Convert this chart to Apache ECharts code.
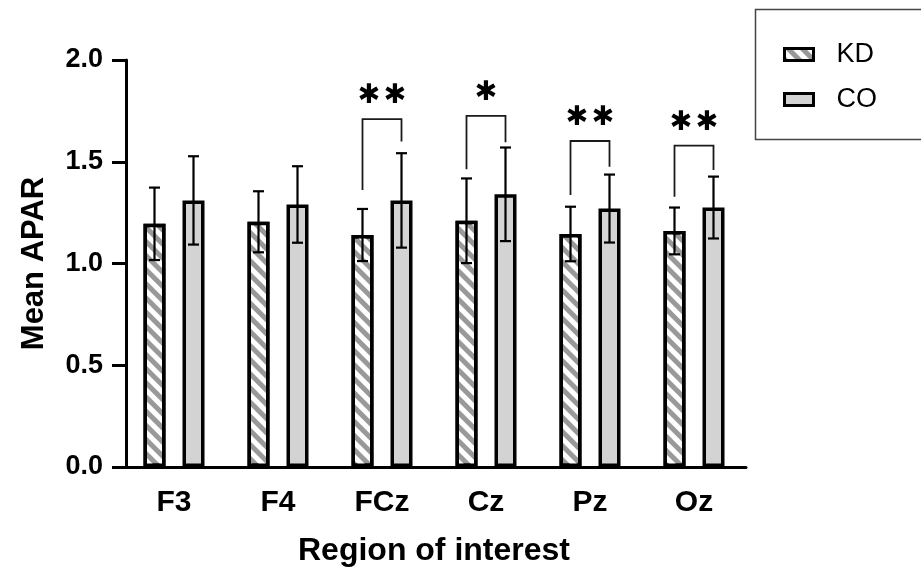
<!DOCTYPE html>
<html>
<head>
<meta charset="utf-8">
<script src="https://cdn.jsdelivr.net/npm/echarts@6/dist/echarts.min.js"></script>
<style>
html,body{margin:0;padding:0;background:#fff;}
#chart{width:921px;height:576px;}
</style>
</head>
<body>
<div id="chart"></div>
<script>
const categories = ['F3', 'F4', 'FCz', 'Cz', 'Pz', 'Oz'];
const kdMean = [1.195, 1.205, 1.14, 1.21, 1.145, 1.16];
const kdSD   = [0.178, 0.150, 0.128, 0.208, 0.134, 0.115];
const coMean = [1.31, 1.29, 1.31, 1.34, 1.27, 1.275];
const coSD   = [0.217, 0.188, 0.232, 0.230, 0.167, 0.152];
const sigCategory = ['FCz', 'Cz', 'Pz', 'Oz'];
const sigTop      = [1.709, 1.725, 1.602, 1.579];
const sigLeftEnd  = [1.361, 1.463, 1.337, 1.328];
const sigRightEnd = [1.600, 1.596, 1.476, 1.459];
const sigLabel    = ['**', '*', '**', '**'];
const yTicks = [0, 0.5, 1.0, 1.5, 2.0];

const FONT = "'Liberation Sans', Arial, sans-serif";
const BAR_W = 22, BAR_GAP_PX = 17;
const OFF = (BAR_W + BAR_GAP_PX) / 2;

const chart = echarts.init(document.getElementById('chart'));

function errRender(offset) {
  return function (params, api) {
    const i = api.value(0), m = api.value(1), s = api.value(2);
    const x = api.coord([i, 0])[0] + offset;
    const hi = api.coord([i, m + s])[1];
    const lo = api.coord([i, m - s])[1];
    const cw = 5.5;
    const st = { stroke: '#000', lineWidth: 2.2 };
    return {
      type: 'group',
      children: [
        { type: 'line', shape: { x1: x, y1: hi, x2: x, y2: lo }, style: st },
        { type: 'line', shape: { x1: x - cw, y1: hi, x2: x + cw, y2: hi }, style: st },
        { type: 'line', shape: { x1: x - cw, y1: lo, x2: x + cw, y2: lo }, style: st }
      ]
    };
  };
}

function sigRender(params, api) {
  const i = api.value(0);
  const cx = api.coord([i, 0])[0];
  const yt = api.coord([i, api.value(1)])[1];
  const yl = api.coord([i, api.value(2)])[1];
  const yr = api.coord([i, api.value(3)])[1];
  const xl = cx - OFF, xr = cx + OFF;
  const label = sigLabel[params.dataIndex];
  const children = [{
    type: 'polyline',
    shape: { points: [[xl, yl], [xl, yt], [xr, yt], [xr, yr]] },
    style: { stroke: '#1a1a1a', lineWidth: 1.8, fill: null }
  }];
  const n = label.length;
  for (let k = 0; k < n; k++) {
    children.push({
      type: 'text',
      style: {
        text: '\u2731', x: cx + (k - (n - 1) / 2) * 26, y: yt - 23,
        align: 'center', verticalAlign: 'middle',
        font: 'bold 27px "DejaVu Sans", sans-serif', fill: '#000'
      }
    });
  }
  return { type: 'group', children };
}

const option = {
  animation: false,
  backgroundColor: '#fff',
  graphic: [{
    type: 'rect', left: 753, top: 7, silent: true,
    shape: { width: 200, height: 130 },
    style: { fill: 'none', stroke: '#444', lineWidth: 1.5 }
  }],
  legend: {
    data: ['KD', 'CO'],
    orient: 'vertical',
    left: 778, top: 36,
    itemWidth: 29, itemHeight: 12, itemGap: 18,
    icon: 'rect',
    itemStyle: { borderColor: '#000', borderWidth: 3 },
    textStyle: { fontFamily: FONT, fontSize: 27, color: '#000', padding: [0, 0, 0, 18] }
  },
  grid: { left: 122, right: 175, top: 60, bottom: 109, containLabel: false },
  xAxis: {
    type: 'category',
    data: categories,
    name: 'Region of interest',
    nameLocation: 'middle',
    nameGap: 68,
    nameTextStyle: { fontFamily: FONT, fontSize: 32, fontWeight: 'bold', color: '#000' },
    axisLine: { lineStyle: { color: '#000', width: 3 } },
    axisTick: { alignWithLabel: true, length: 15, lineStyle: { color: '#000', width: 3 } },
    axisLabel: { fontFamily: FONT, fontSize: 30, fontWeight: 'bold', color: '#000', margin: 21 }
  },
  yAxis: {
    type: 'value',
    min: yTicks[0], max: yTicks[yTicks.length - 1], interval: yTicks[1] - yTicks[0],
    offset: -4,
    name: 'Mean APAR',
    nameLocation: 'middle',
    nameGap: 76,
    nameRotate: 90,
    nameTextStyle: { fontFamily: FONT, fontSize: 31, fontWeight: 'bold', color: '#000' },
    splitLine: { show: false },
    axisLine: { show: true, lineStyle: { color: '#000', width: 3 } },
    axisTick: { show: true, length: 14, lineStyle: { color: '#000', width: 3 } },
    axisLabel: { fontFamily: FONT, fontSize: 27, fontWeight: 'bold', color: '#000', margin: 23,
      formatter: v => v.toFixed(1) }
  },
  series: [
    {
      name: 'KD', type: 'bar', data: kdMean,
      barWidth: BAR_W, barGap: (BAR_GAP_PX / BAR_W * 100) + '%',
      itemStyle: {
        color: '#999999', borderColor: '#000', borderWidth: 3.5,
        decal: { symbol: 'rect', symbolSize: 1, dashArrayX: [1, 0], dashArrayY: [5, 5],
          rotation: Math.PI / 4, color: '#ffffff' }
      },
      z: 2
    },
    {
      name: 'CO', type: 'bar', data: coMean,
      barWidth: BAR_W,
      itemStyle: { color: '#d3d3d3', borderColor: '#000', borderWidth: 3.5 },
      z: 2
    },
    {
      name: 'KD err', type: 'custom', renderItem: errRender(-OFF),
      data: kdMean.map((m, i) => [i, m, kdSD[i]]), z: 5, silent: true
    },
    {
      name: 'CO err', type: 'custom', renderItem: errRender(OFF),
      data: coMean.map((m, i) => [i, m, coSD[i]]), z: 5, silent: true
    },
    {
      name: 'sig', type: 'custom', renderItem: sigRender,
      data: sigCategory.map((c, i) => [categories.indexOf(c), sigTop[i], sigLeftEnd[i], sigRightEnd[i]]),
      z: 5, silent: true
    }
  ]
};
chart.setOption(option);
</script>
</body>
</html>
